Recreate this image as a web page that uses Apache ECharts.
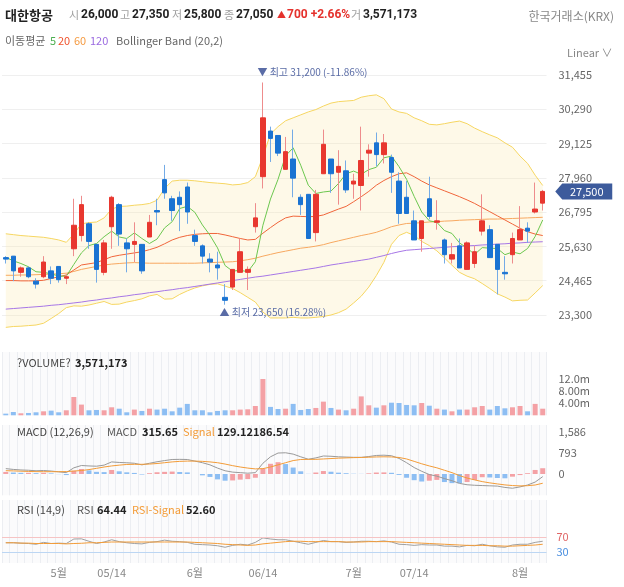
<!DOCTYPE html>
<html><head><meta charset="utf-8">
<script src="https://cdn.jsdelivr.net/npm/echarts/dist/echarts.min.js"></script>
<style>html,body{margin:0;padding:0;background:#fff}#c{width:624px;height:587px}</style>
</head><body><div id="c"></div>
<script>
const dates = ['04/22','04/23','04/26','04/27','04/28','04/29','04/30','05/03','05/04','05/06','05/07','05/10','05/11','05/12','05/13','05/14','05/17','05/18','05/20','05/21','05/24','05/25','05/26','05/27','05/28','05/31','06/01','06/02','06/03','06/04','06/07','06/08','06/09','06/10','06/11','06/14','06/15','06/16','06/17','06/18','06/21','06/22','06/23','06/24','06/25','06/28','06/29','06/30','07/01','07/02','07/05','07/06','07/07','07/08','07/09','07/12','07/13','07/14','07/15','07/16','07/19','07/20','07/21','07/22','07/23','07/26','07/27','07/28','07/29','07/30','08/02','08/03'];
const tickIndex = [7,14,25,34,46,54,68];
const tickText = ['5월','05/14','6월','06/14','7월','07/14','8월'];

const openP  = [25250,25300,24750,24900,24450,24600,24800,24950,24550,25550,26000,26400,25700,24750,26300,27050,25750,25700,25700,25950,26850,27900,27250,27300,27650,26000,25650,25200,25000,23900,24250,24750,24750,26300,28000,29550,29400,28250,28600,27300,27400,26100,28100,28600,28150,28200,27750,27700,28800,29150,28750,28650,27850,27300,26500,25900,27250,26450,25850,25200,25650,24850,25050,26150,26200,25700,24750,25350,25850,26250,26800,27100];
const highP  = [25300,25300,24950,24950,24550,25300,24950,24950,24700,27250,27350,26450,25700,25850,27350,27100,25900,26450,25700,26700,27250,28400,27350,27500,27800,26200,25700,25400,25450,24350,24850,25900,24950,27100,31200,29700,29400,29350,29600,27400,27400,27550,29600,28600,28900,28550,28100,29700,29100,29500,29450,28750,28150,27850,26850,26500,28000,27200,25900,25750,25900,25800,25650,27400,26350,25700,25300,26100,27000,26450,27800,27550];
const lowP   = [25050,24450,24600,24550,24200,24550,24350,24400,24350,25300,25800,25550,24400,24650,25550,25650,24750,25100,24700,25950,26350,27250,26500,26150,26400,25650,25050,24750,24500,23650,24150,24750,24150,26100,27600,28500,28700,28250,27300,26700,25900,25800,28100,27450,27050,27450,27250,26850,28000,28350,28450,27450,26400,26750,25850,25450,26550,26200,25050,25050,24900,24850,24900,26000,25250,24000,24500,25050,25850,25750,26750,26850];
const closeP = [25200,24800,24900,24600,24350,25100,24550,24500,24600,26350,27050,25800,24850,25750,27300,26050,25550,25800,24800,26450,26800,27450,26850,27050,26800,25800,25300,25100,24900,23800,24850,25450,24850,26600,30000,29300,28800,28850,27950,27050,25900,27400,29100,28100,28350,27550,27850,28550,28900,28750,29150,28150,26750,26750,25850,26500,26650,26500,25350,25350,24900,25750,25450,26500,25250,24850,24700,25900,26200,26150,26900,27500];
const volume = [550000,1100000,670000,780000,1000000,1330000,1550000,1000000,1670000,6100000,3571173,1670000,1780000,1670000,2670000,2200000,1000000,1900000,1450000,2200000,1900000,2200000,1330000,2550000,3800000,1670000,1670000,1000000,1450000,1670000,1670000,1900000,2000000,3100000,12100000,2800000,2100000,2200000,3800000,1780000,2100000,2450000,4550000,2450000,1900000,1670000,2200000,6300000,3330000,2550000,3330000,4200000,4100000,3450000,3330000,4100000,3200000,2200000,1900000,1330000,1900000,1900000,2670000,3100000,1900000,3100000,2330000,2670000,3100000,1330000,3800000,2200000];
const ma5   = [25260,25140,25050,24940,24770,24750,24700,24620,24620,25020,25410,25660,25730,25960,26150,25950,25900,26090,25900,25730,25880,26260,26470,26920,26990,26790,26360,26010,25580,24980,24790,24820,24770,25110,26350,27240,27910,28710,28980,28390,27710,27430,27480,27510,27770,28100,28190,28080,28240,28320,28640,28700,28340,27910,27330,26800,26500,26450,26170,26070,25750,25570,25360,25590,25570,25560,25350,25440,25380,25560,25970,26530];
const ma20  = [24470,24470,24460,24460,24460,24480,24540,24600,24660,24830,25000,25040,25080,25180,25280,25330,25370,25410,25450,25520,25600,25720,25850,25940,26000,26040,26060,26070,26070,26020,25960,25900,25850,25870,26080,26270,26450,26600,26660,26650,26640,26650,26700,26800,26900,26990,27150,27320,27500,27710,27870,28000,28100,28130,28000,27850,27720,27620,27520,27420,27320,27210,27090,26950,26810,26670,26530,26390,26250,26130,26050,26000];
const ma60  = [24650,24650,24660,24660,24670,24680,24690,24700,24720,24780,24850,24900,24950,25000,25030,25050,25070,25080,25070,25060,25060,25060,25060,25060,25060,25060,25070,25080,25090,25100,25110,25140,25180,25230,25300,25360,25420,25470,25520,25570,25600,25640,25690,25760,25820,25880,25940,26000,26050,26110,26200,26300,26360,26410,26420,26440,26460,26470,26490,26500,26520,26530,26540,26550,26560,26560,26570,26580,26590,26600,26610,26620];
const ma120 = [23500,23520,23540,23560,23580,23600,23630,23650,23680,23710,23740,23780,23810,23850,23880,23920,23950,23990,24020,24060,24090,24130,24160,24200,24230,24270,24310,24350,24390,24430,24470,24510,24550,24590,24620,24660,24700,24740,24780,24820,24860,24900,24950,25000,25040,25080,25120,25160,25200,25260,25320,25390,25450,25500,25520,25540,25560,25580,25600,25620,25630,25650,25660,25680,25690,25710,25720,25740,25750,25770,25780,25790];
const bbUpper = [26060,26030,26000,25980,25960,25940,25900,25850,25770,26050,26400,26440,26460,26600,26900,26990,27000,27030,27050,27090,27200,27600,27850,27880,27880,27860,27830,27800,27780,27760,27720,27740,27800,28000,28680,29450,29700,29900,30000,30100,30200,30280,30400,30500,30550,30570,30590,30700,30750,30780,30650,30300,30200,30150,30000,29900,29780,29760,29800,29850,29890,29800,29650,29530,29420,29320,29150,29000,28700,28450,28050,27700];
const bbLower = [22880,22910,22920,22940,22960,23020,23180,23350,23550,23610,23600,23640,23700,23760,23660,23670,23740,23790,23850,23950,24000,23840,23850,24000,24120,24220,24290,24340,24360,24280,24200,24060,23900,23740,23400,23200,23200,23200,23220,23200,23200,23220,23250,23300,23380,23500,23710,23940,24250,24640,25090,25700,26000,26110,26000,25800,25660,25480,25240,24990,24750,24620,24530,24370,24200,24020,23910,23780,23800,23810,24050,24300];
const macdLine = [200,170,150,140,120,130,110,80,50,230,316,300,290,330,450,430,418,400,340,400,455,500,540,545,540,480,420,340,220,120,70,50,30,50,400,640,780,790,740,640,550,600,670,660,640,630,620,620,650,690,700,680,580,420,240,100,-20,-80,-170,-250,-350,-400,-420,-430,-440,-450,-500,-530,-480,-410,-300,-98];
const macdSignal = [123,115,105,95,88,86,86,86,90,110,129,165,210,260,300,330,355,360,360,370,390,420,450,470,480,480,470,450,420,370,310,260,220,190,200,260,340,420,500,540,545,545,560,575,590,600,610,615,625,635,640,635,615,560,470,380,300,230,140,50,-60,-150,-220,-283,-330,-370,-406,-430,-443,-435,-410,-344];
const macdHist = [77,55,45,45,32,44,24,-6,-40,120,187,135,80,70,150,100,63,40,-20,30,65,80,90,75,60,0,-50,-110,-200,-250,-240,-210,-190,-140,200,380,440,370,240,100,5,55,110,85,50,30,10,5,25,55,60,45,-35,-140,-230,-280,-250,-220,-300,-340,-345,-300,-221,-120,-130,-150,-160,-100,-40,30,150,215];
const rsi = [54,54,53,52,50,55,52,53,52,64,64.44,58,52,56,62,57,54,52,51,55,57,61,58,57,55,50,49,48,46,42,47,50,48,55,67,64,62,62,58,54,50,55,60,57,57,55,56,58,58,57,59,56,50,49,47,49,48,48,45,45,43,47,46,50,46,43,42,48,50,50,55,58];
const rsiSignal = [54,54,53,53,52,52,52,52,51,52,52.6,54,54,55,56,56,56,56,56,56,56,56,56,56,56,55,54,53,52,50,49,48,47,48,51,53,55,57,58,58,57,57,57,57,57,56,56,56,57,57,57,57,56,55,54,53,52,51,50,49,48,47,47,47,46,46,45,45,46,47,48,50];

const UP='#e8372f', DN='#1a73d2', UPW='#ee8c8c', DNW='#74abe6';
const VUP='#f4a1a5', VDN='#8dbef3';
const FONT = "'Noto Sans CJK KR', sans-serif";
const NUMFONT = "Roboto, 'Noto Sans CJK KR', sans-serif";

const candleFull = dates.map((d,i)=>[openP[i], closeP[i], lowP[i], highP[i]]);
const candleBody = dates.map((d,i)=>[openP[i], closeP[i], Math.min(openP[i],closeP[i]), Math.max(openP[i],closeP[i])]);
const bbBand = bbUpper.map((u,i)=>u-bbLower[i]);
const volData = volume.map((v,i)=>({value:v, itemStyle:{color: closeP[i]>=openP[i]?VUP:VDN}}));
const histData = macdHist.map((v,i)=>({value:v, itemStyle:{color:(i===0||v>=macdHist[i-1])?VUP:VDN}}));

const gridL = 2, gridR = 77.5;
const grids = [
  {left:gridL, right:gridR, top:40.7, height:308.6},
  {left:gridL, right:gridR, top:352, height:63.3, show:true, backgroundColor:'#fbfbfc', borderWidth:0},
  {left:gridL, right:gridR, top:425, height:70.3, show:true, backgroundColor:'#fbfbfc', borderWidth:0},
  {left:gridL, right:gridR, top:500, height:63, show:true, backgroundColor:'#fbfbfc', borderWidth:0}
];
function xAx(k){
  return {type:'category', gridIndex:k, data:dates, boundaryGap:true,
    axisLine:{show:false}, axisTick:{show:false},
    axisLabel:{show:k===3, interval:0, margin:4, color:'#888', fontSize:11, fontFamily:FONT,
      formatter:(v,idx)=>{const p=tickIndex.indexOf(idx); return p>=0?tickText[p]:'';}},
    splitLine:{show:k>0, interval:0, lineStyle:{color:'#eceef2', width:1}}};
}
const lbl = {color:'#666', fontSize:11, fontFamily:FONT, margin:12};
function line(name, data, color, x){
  return {name, type:'line', data, xAxisIndex:x||0, yAxisIndex:x||0, showSymbol:false, symbol:'none',
    lineStyle:{color, width:1}, itemStyle:{color}, silent:true, z:3};
}
function T(x,y,text,color,size,weight,align,font){
  return {type:'text', x, y, z:100, zlevel:1, silent:true, style:{text, fill:color, fontSize:size, fontWeight:weight||'normal', fontFamily:font||FONT, align:align||'left', verticalAlign:'middle'}};
}
const G='#a0a0a0', K='#222';
const graphics = [
  T(5,15,'대한항공',K,13,'bold'),
  T(69,15,'시',G,11), T(81,15,'26,000',K,12,'bold','left',NUMFONT),
  T(120,15,'고',G,11), T(132,15,'27,350',K,12,'bold','left',NUMFONT),
  T(172,15,'저',G,11), T(184,15,'25,800',K,12,'bold','left',NUMFONT),
  T(224,15,'종',G,11), T(236,15,'27,050',K,12,'bold','left',NUMFONT),
  T(277,15,'▲','#e5322d',9), T(287,15,'700 +2.66%','#e5322d',12,'bold','left',NUMFONT),
  T(351,15,'거',G,11), T(363,15,'3,571,173',K,12,'bold','left',NUMFONT),
  T(614,16,'한국거래소(KRX)','#888',12,'normal','right'),
  T(5,41,'이동평균','#666',11), T(50,41,'5','#4caf50',11), T(58,41,'20','#f0532d',11),
  T(74,41,'60','#f59b42',11), T(90,41,'120','#9b6be0',11), T(116,41,'Bollinger Band (20,2)','#666',11),
  T(567,53,'Linear ∨','#888',11),
  T(17,363,'?VOLUME?','#444',11), T(75,363,'3,571,173',K,11,'bold'),
  T(17,432,'MACD (12,26,9)','#444',11), T(107,432,'MACD','#555',11), T(142,432,'315.65',K,11,'bold'),
  T(183,432,'Signal','#f39c38',11), T(217,432,'129.12186.54',K,11,'bold'),
  T(17,510,'RSI (14,9)','#444',11), T(77,510,'RSI','#555',11), T(97,510,'64.44',K,11,'bold'),
  T(132,510,'RSI-Signal','#f39c38',11), T(186,510,'52.60',K,11,'bold')
];

const option = {
  animation:false,
  textStyle:{fontFamily:FONT},
  grid: grids,
  xAxis: [xAx(0),xAx(1),xAx(2),xAx(3)],
  yAxis: [
    {type:'value', gridIndex:0, position:'right', min:22135, max:32620, interval:1165,
      axisLine:{show:false}, axisTick:{show:false},
      axisLabel:Object.assign({showMinLabel:false, showMaxLabel:false, formatter:v=>v.toLocaleString('en-US')}, lbl),
      splitLine:{show:true, showMinLine:false, showMaxLine:false, lineStyle:{color:'#efefef'}}},
    {type:'value', gridIndex:1, position:'right', min:0, max:21100000, interval:4000000,
      axisLine:{show:false}, axisTick:{show:false},
      axisLabel:Object.assign({formatter:v=>(v>0 && v<=12000001)?(v/1e6).toPrecision(3)+'m':''}, lbl),
      splitLine:{show:false}},
    {type:'value', gridIndex:2, position:'right', min:-793, max:1824, interval:793,
      axisLine:{show:false}, axisTick:{show:false},
      axisLabel:Object.assign({formatter:v=>{const r=Math.round(v); return (r===0||r===793||r===1586)?r.toLocaleString('en-US'):'';}}, lbl),
      splitLine:{show:false}},
    {type:'value', gridIndex:3, position:'right', min:0, max:168,
      axisLine:{show:false}, axisTick:{show:false}, axisLabel:{show:false}, splitLine:{show:false}}
  ],
  graphic: graphics,
  series: [
    {name:'BBL', type:'line', data:bbLower, stack:'bb', showSymbol:false, symbol:'none', silent:true,
      lineStyle:{color:'#f6d661', width:1}, z:1},
    {name:'BBU', type:'line', data:bbBand, stack:'bb', showSymbol:false, symbol:'none', silent:true,
      lineStyle:{color:'#f6d661', width:1}, areaStyle:{color:'rgba(252,230,160,0.35)'}, z:1},
    line('MA120', ma120, '#a676e6'),
    line('MA60', ma60, '#f7a860'),
    line('MA20', ma20, '#f0653a'),
    line('MA5', ma5, '#6cc74f'),
    {name:'wick', type:'candlestick', data:candleFull, barWidth:1, silent:true, z:4,
      itemStyle:{color:UPW, color0:DNW, borderColor:UPW, borderColor0:DNW, borderWidth:1}},
    {name:'body', type:'candlestick', data:candleBody, barWidth:5, silent:true, z:5,
      itemStyle:{color:UP, color0:DN, borderColor:UP, borderColor0:DN, borderWidth:1},
      markPoint:{silent:true, animation:false, data:[
        {coord:[dates[34],31200], symbol:'circle', symbolSize:1, itemStyle:{color:'rgba(0,0,0,0)'},
          label:{show:true, position:[-5,-15], formatter:'▼ 최고 31,200 (-11.86%)', color:'#5a6ca6', fontSize:10, fontFamily:FONT}},
        {coord:[dates[29],23650], symbol:'circle', symbolSize:1, itemStyle:{color:'rgba(0,0,0,0)'},
          label:{show:true, position:[-5,3], formatter:'▲ 최저 23,650 (16.28%)', color:'#5a6ca6', fontSize:10, fontFamily:FONT}},
        {coord:[dates[71],27500], symbol:'path://M0,8 L7,0 L57,0 L57,16 L7,16 Z', symbolSize:[57,16], symbolKeepAspect:false,
          symbolOffset:[41,0], itemStyle:{color:'#3d5b9c'},
          label:{show:true, position:'inside', offset:[3,0], formatter:'27,500', color:'#fff', fontSize:11, fontFamily:FONT}}
      ]}},
    {name:'VOL', type:'bar', xAxisIndex:1, yAxisIndex:1, data:volData, barWidth:5, silent:true},
    {name:'HIST', type:'bar', xAxisIndex:2, yAxisIndex:2, data:histData, barWidth:5, silent:true},
    line('MACD', macdLine, '#9a9a9a', 2),
    line('Signal', macdSignal, '#f39c38', 2),
    Object.assign(line('RSI', rsi, '#a0a0a0', 3), {markLine:{silent:true, symbol:'none', animation:false, data:[
      {yAxis:70, lineStyle:{color:'#f6c4c4', type:'solid', width:1}, label:{show:true, position:'end', distance:10, formatter:'70', color:'#e06666', fontSize:11, fontFamily:FONT}},
      {yAxis:30, lineStyle:{color:'#bcd6f3', type:'solid', width:1}, label:{show:true, position:'end', distance:10, formatter:'30', color:'#4a8fe0', fontSize:11, fontFamily:FONT}}
    ]}}),
    line('RSI-Signal', rsiSignal, '#f39c38', 3)
  ]
};
const chart = echarts.init(document.getElementById('c'));
chart.setOption(option);
</script></body></html>
